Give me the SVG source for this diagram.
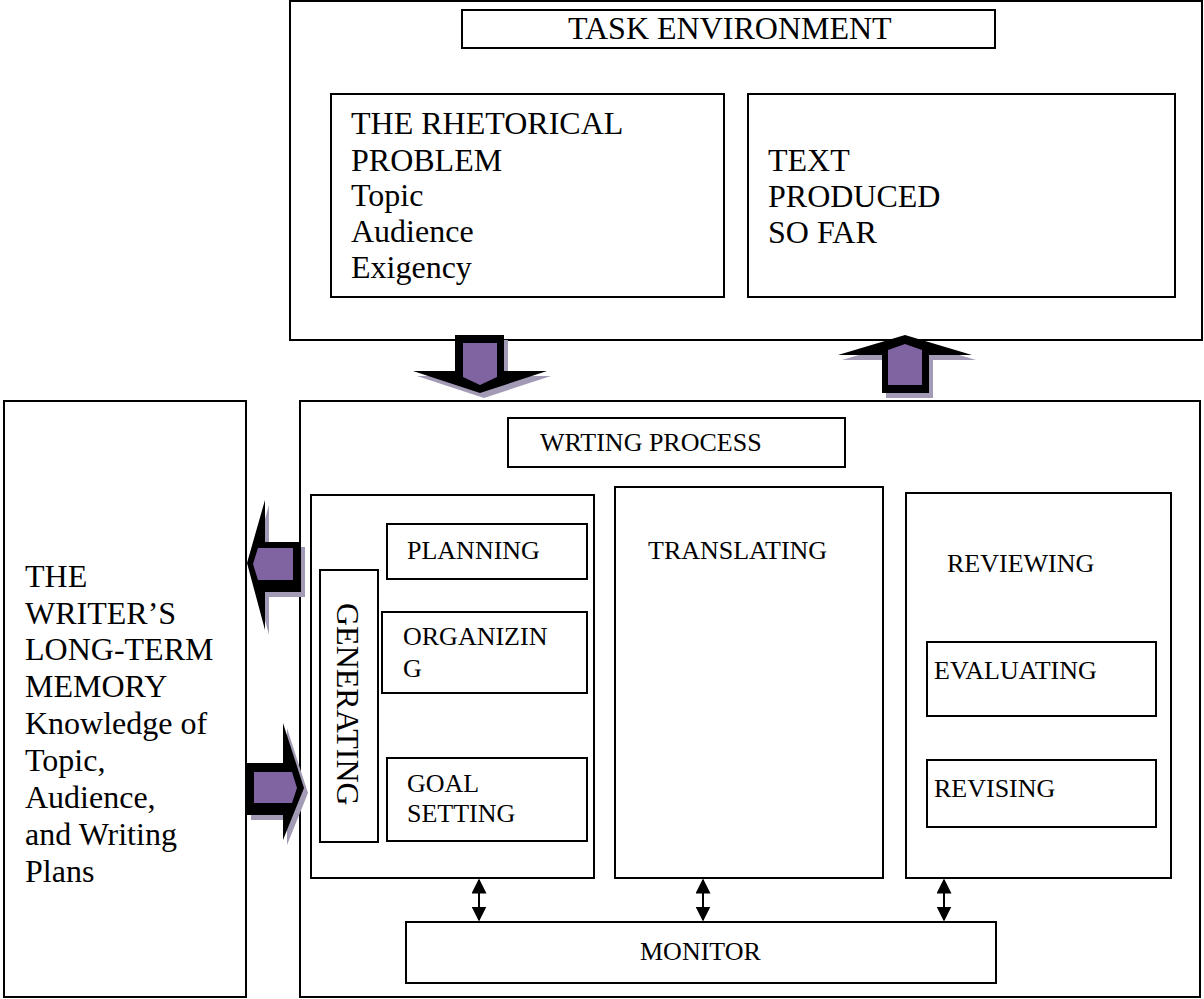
<svg xmlns="http://www.w3.org/2000/svg" width="1204" height="999" viewBox="0 0 1204 999">
<defs>
<style>
.box{fill:#fff;stroke:#000;stroke-width:2}
.t{font-family:"Liberation Serif","Times New Roman",serif;fill:#000}
.big{font-size:32px}
.sm{font-size:26px}
.sh{fill:#a39bb5}
.bk{fill:#000}
.pu{fill:#8064a2}
.dl{stroke:#000;stroke-width:2;fill:none}
</style>
<marker id="ah" viewBox="0 0 10 10" refX="9" refY="5" markerWidth="7.5" markerHeight="7.5" orient="auto-start-reverse" markerUnits="strokeWidth">
<path d="M0,0 L10,5 L0,10 z" fill="#000"/>
</marker>
</defs>
<rect width="1204" height="999" fill="#fff"/>

<g id="task-environment-frame">
<rect class="box" x="290" y="1" width="912" height="339"/>
</g>
<g id="task-environment">
<rect class="box" x="462" y="10" width="533" height="38"/>
<text class="t big" x="568" y="39">TASK ENVIRONMENT</text>
</g>
<g id="rhetorical-problem">
<rect class="box" x="331" y="94" width="393" height="203"/>
<text class="t big" x="351" y="134">THE RHETORICAL</text>
<text class="t big" x="351" y="171">PROBLEM</text>
<text class="t big" x="351" y="206">Topic</text>
<text class="t big" x="351" y="242">Audience</text>
<text class="t big" x="351" y="278">Exigency</text>
</g>
<g id="text-produced">
<rect class="box" x="748" y="94" width="427" height="203"/>
<text class="t big" x="768" y="171">TEXT</text>
<text class="t big" x="768" y="207">PRODUCED</text>
<text class="t big" x="768" y="243">SO FAR</text>
</g>

<g id="long-term-memory">
<rect class="box" x="4" y="401" width="242" height="596"/>
<text class="t big" x="25" y="587">THE</text>
<text class="t big" x="25" y="624">WRITER’S</text>
<text class="t big" x="25" y="660">LONG-TERM</text>
<text class="t big" x="25" y="697">MEMORY</text>
<text class="t big" x="25" y="734">Knowledge of</text>
<text class="t big" x="25" y="771">Topic,</text>
<text class="t big" x="25" y="808">Audience,</text>
<text class="t big" x="25" y="845">and Writing</text>
<text class="t big" x="25" y="882">Plans</text>
</g>

<g id="writing-process-frame">
<rect class="box" x="300" y="401" width="900" height="596"/>
</g>
<g id="writing-process">
<rect class="box" x="508" y="418" width="337" height="49"/>
<text class="t sm" x="540" y="451">WRTING PROCESS</text>
</g>
<g id="planning-column">
<rect class="box" x="311" y="495" width="283" height="383"/>
</g>
<g id="planning">
<rect class="box" x="387" y="524" width="200" height="55"/>
<text class="t sm" x="407" y="559">PLANNING</text>
</g>
<g id="generating">
<rect class="box" x="320" y="570" width="58" height="272"/>
<text class="t big" transform="translate(337,603) rotate(90)">GENERATING</text>
</g>
<g id="organizing">
<rect class="box" x="382" y="612" width="205" height="81"/>
<text class="t sm" x="403" y="645">ORGANIZIN</text>
<text class="t sm" x="403" y="677">G</text>
</g>
<g id="goal-setting">
<rect class="box" x="387" y="758" width="200" height="83"/>
<text class="t sm" x="407" y="792">GOAL</text>
<text class="t sm" x="407" y="822">SETTING</text>
</g>
<g id="translating">
<rect class="box" x="615" y="487" width="268" height="391"/>
<text class="t sm" x="648" y="559">TRANSLATING</text>
</g>
<g id="reviewing">
<rect class="box" x="906" y="493" width="265" height="385"/>
<text class="t sm" x="947" y="572">REVIEWING</text>
</g>
<g id="evaluating">
<rect class="box" x="927" y="642" width="229" height="74"/>
<text class="t sm" x="934" y="679">EVALUATING</text>
</g>
<g id="revising">
<rect class="box" x="927" y="760" width="229" height="67"/>
<text class="t sm" x="934" y="797">REVISING</text>
</g>
<g id="monitor">
<rect class="box" x="406" y="922" width="590" height="61"/>
<text class="t sm" x="640" y="960">MONITOR</text>
</g>

<g id="connectors">
<!-- down arrow: task environment to writing process -->
<g id="arrow-down">
<polygon class="sh" points="459,340 508,340 508,376 551,376 484,398 417,376 459,376"/>
<polygon class="bk" points="455,335 504,335 504,371 547,371 480,393 413,371 455,371"/>
<polygon class="pu" points="463,343 497,343 497,377 480,385 463,377"/>
</g>
<!-- up arrow: writing process to text produced -->
<g id="arrow-up">
<polygon class="sh" points="909,340 976,360 933,360 933,398 886,398 886,360 842,360"/>
<polygon class="bk" points="905,335 972,355 929,355 929,393 882,393 882,355 838,355"/>
<polygon class="pu" points="905,344 922,350 922,385 888,385 888,350"/>
</g>
<!-- left arrow: writing process to memory -->
<g id="arrow-left">
<polygon class="sh" points="251,568 269,505 269,547 305,547 305,597 269,597 269,635"/>
<polygon class="bk" points="247,563 265,500 265,542 301,542 301,592 265,592 265,630"/>
<polygon class="pu" points="253,564 258,548 293,548 293,580 258,580"/>
</g>
<!-- right arrow: memory to writing process -->
<g id="arrow-right">
<polygon class="sh" points="251,768 287,768 287,728 308,793 287,845 287,820 251,820"/>
<polygon class="bk" points="247,763 283,763 283,723 304,788 283,840 283,815 247,815"/>
<polygon class="pu" points="254,772 292,772 297,788 292,803 254,803"/>
</g>
<line class="dl" x1="479" y1="880" x2="479" y2="920" marker-start="url(#ah)" marker-end="url(#ah)"/>
<line class="dl" x1="703" y1="880" x2="703" y2="920" marker-start="url(#ah)" marker-end="url(#ah)"/>
<line class="dl" x1="944" y1="880" x2="944" y2="920" marker-start="url(#ah)" marker-end="url(#ah)"/>
</g>
</svg>
